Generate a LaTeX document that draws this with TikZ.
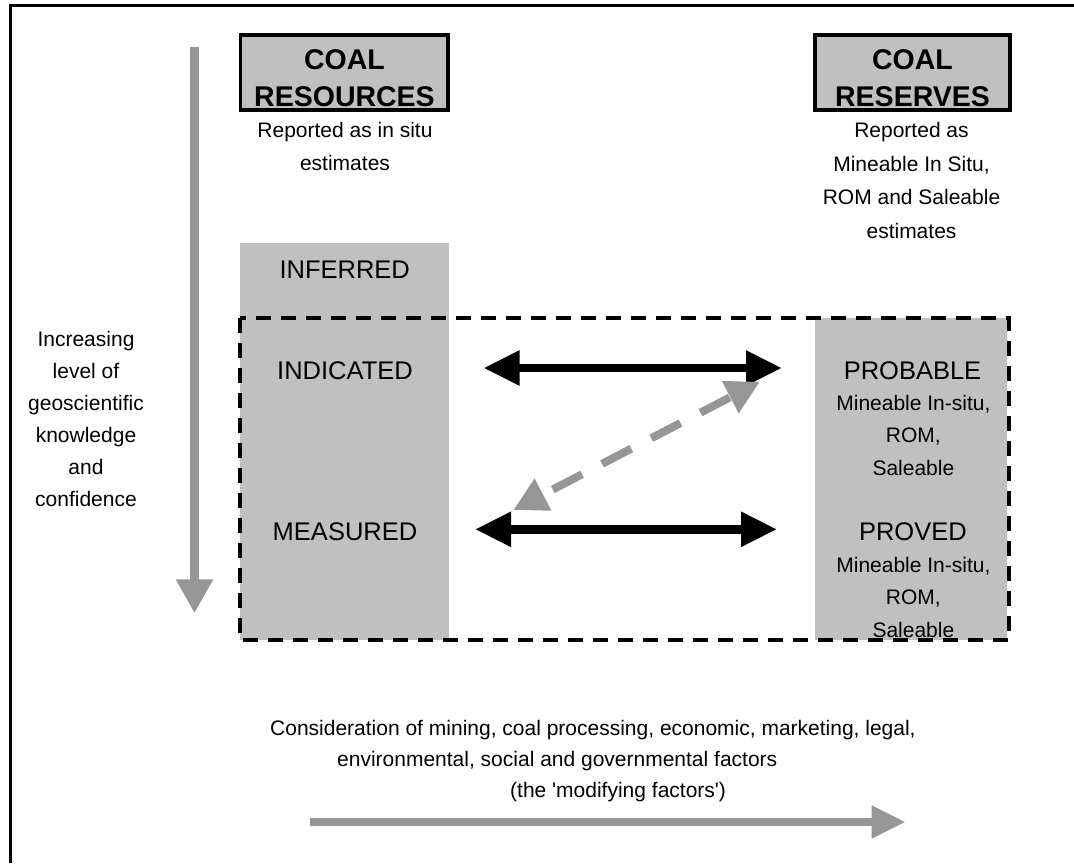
\documentclass[tikz,border=0pt]{standalone}
\usepackage{fontspec}
\setmainfont{Liberation Sans}
\usetikzlibrary{arrows.meta}
\definecolor{boxgray}{HTML}{C0C0C0}
\definecolor{arrgray}{HTML}{969696}
\tikzset{
  smalltext/.style={font=\fontsize{21}{32.4}\selectfont, align=center, inner sep=0pt, anchor=base},
  rsmalltext/.style={font=\fontsize{21}{33.5}\selectfont, align=center, inner sep=0pt, anchor=base},
  midtext/.style={font=\fontsize{25.5}{30}\selectfont, inner sep=0pt, anchor=base},
  headtext/.style={font=\fontsize{28.5}{37}\selectfont\bfseries, align=center, inner sep=0pt, anchor=base},
  headbox/.style={draw=black, line width=3.4pt, fill=boxgray, inner sep=0pt},
  bigarrow/.style={draw=arrgray, line width=9pt, -{Triangle[length=34pt,width=35pt]}},
  botarrow/.style={draw=arrgray, line width=8pt, -{Triangle[length=34pt,width=31pt]}},
  blackarrow/.style={draw=black, line width=8.5pt, {Triangle[length=36pt,width=33pt]}-{Triangle[length=36pt,width=33pt]}},
  dasharrow/.style={draw=arrgray, line width=8pt, dash pattern=on 33pt off 22.5pt, dash phase=42.5pt, {Triangle[length=33.5pt,width=34pt]}-{Triangle[length=33.5pt,width=34pt]}},
  dashbox/.style={draw=black, line width=4pt, dash pattern=on 15pt off 10pt},
  bottomtext/.style={font=\fontsize{21}{32}\selectfont, inner sep=0pt, anchor=base west},
}
\begin{document}
\begin{tikzpicture}[x=1pt,y=-1pt]
\useasboundingbox (0,0) rectangle (1074,863);
% outer frame
\draw[line width=3pt] (10.7,863) -- (10.7,5.7) -- (1074,5.7);
% grey columns
\fill[boxgray] (240,243) rectangle (449,640);
\fill[boxgray] (814.5,318.3) rectangle (1007,640);
% dashed box
\draw[dashbox] (239.5,318.3) rectangle (1008.5,640);
% heading boxes (text anchored at the baseline of its last line)
\node[headbox, minimum width=207.7pt, minimum height=75pt] (resbox) at (344.2,72.5) {};
\node[headtext] (restext) at (344.5,106) {COAL\\RESOURCES};
\node[headbox, minimum width=194.7pt, minimum height=75pt] (rsvbox) at (912.5,72.5) {};
\node[headtext] (rsvtext) at (912.5,106) {COAL\\RESERVES};
% sub texts
\node[smalltext] (resnote) at (345,170) {Reported as in situ\\estimates};
\node[rsmalltext] (rsvnote) at (911.5,238.2) {Reported as\\Mineable In Situ,\\ROM and Saleable\\estimates};
% category labels
\node[midtext] (inferred) at (344.7,278.3) {INFERRED};
\node[midtext] (indicated) at (345,379) {INDICATED};
\node[midtext] (measured) at (345,540.7) {MEASURED};
\node[midtext] (probable) at (912.5,379) {PROBABLE};
\node[smalltext] (probdet) at (913.4,475) {Mineable In-situ,\\ROM,\\Saleable};
\node[midtext] (proved) at (912.9,540.7) {PROVED};
\node[smalltext] (provdet) at (913.4,637.2) {Mineable In-situ,\\ROM,\\Saleable};
% left text
\node[smalltext, font=\fontsize{21}{32.1}\selectfont] (conf) at (86,506.5) {Increasing\\level of\\geoscientific\\knowledge\\and\\confidence};
% bottom text
\node[bottomtext] (mod1) at (270,735) {Consideration of mining, coal processing, economic, marketing, legal,};
\node[bottomtext] (mod2) at (337,766) {environmental, social and governmental factors};
\node[bottomtext] (mod3) at (510,797) {(the \textquotesingle modifying factors\textquotesingle)};
% arrow end points
\coordinate (vtop) at (194.5,47);
\coordinate (vtip) at (194.5,613.3);
\coordinate (htail) at (309.6,822);
\coordinate (htip) at (905.5,822);
\coordinate (indR) at (483.5,368);
\coordinate (probL) at (782,368);
\coordinate (meaR) at (475,529.3);
\coordinate (provL) at (777,529.3);
\coordinate (dlow) at (513.3,510);
\coordinate (dhigh) at (760,381.7);
% arrows
\draw[bigarrow] (vtop) -- (vtip);
\draw[botarrow] (htail) -- (htip);
\draw[blackarrow] (indR) -- (probL);
\draw[blackarrow] (meaR) -- (provL);
\draw[dasharrow] (dlow) -- (dhigh);
\end{tikzpicture}
\end{document}
